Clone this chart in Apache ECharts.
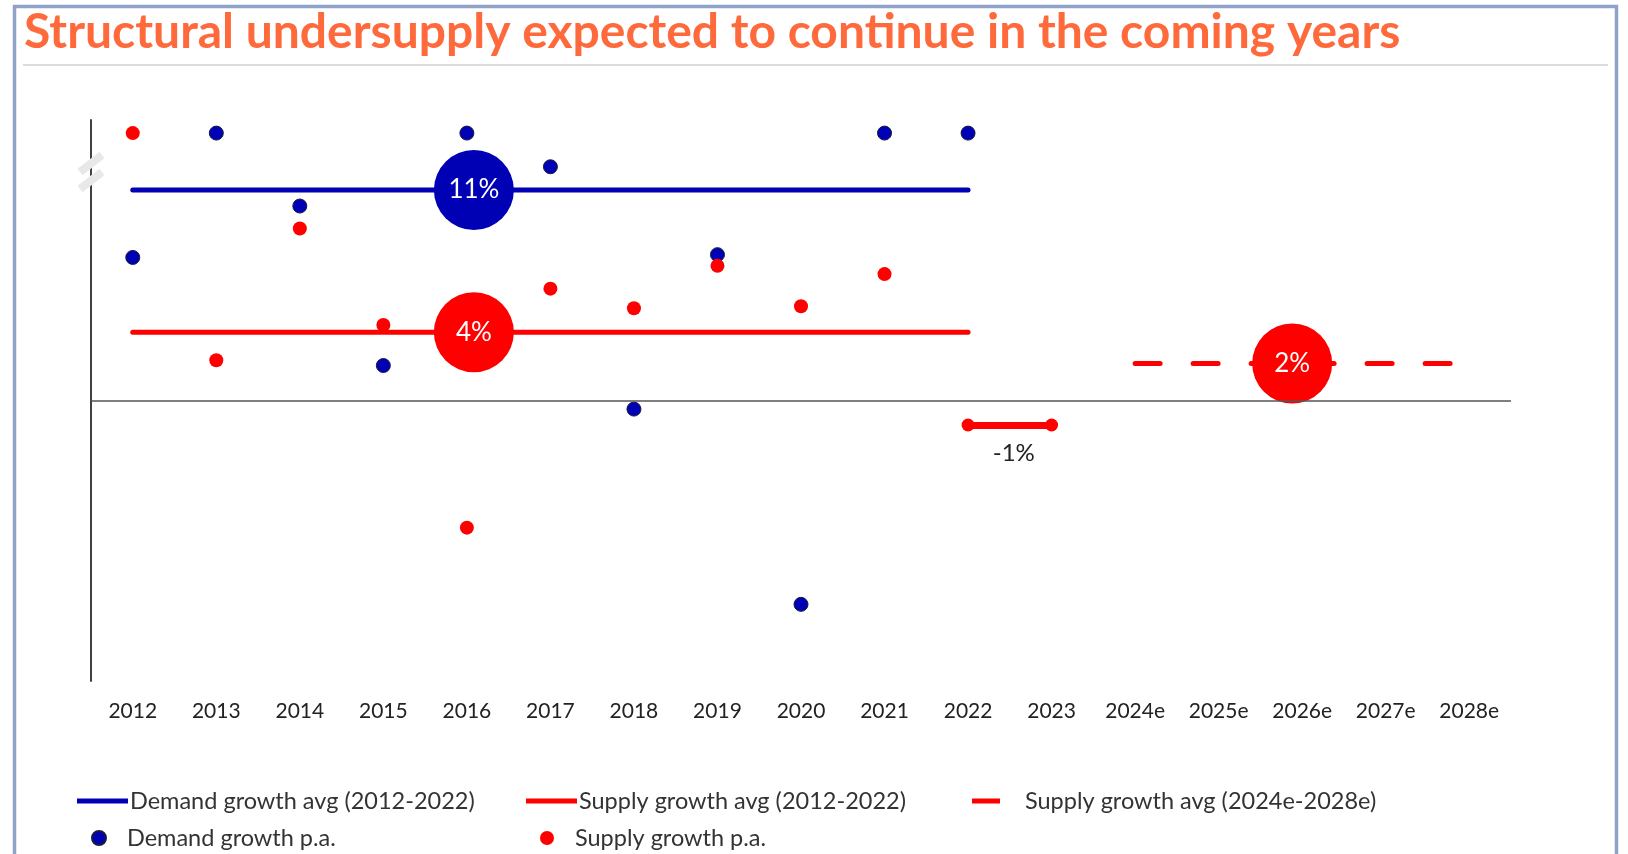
<!DOCTYPE html>
<html>
<head>
<meta charset="utf-8">
<title>Structural undersupply</title>
<script src="https://cdn.jsdelivr.net/npm/echarts@6/dist/echarts.min.js"></script>
<style>
  html, body { margin: 0; padding: 0; background: #fff; }
  #chart { width: 1628px; height: 854px; }
</style>
</head>
<body>
<div id="chart"></div>
<script>
// categories on the x axis
const years = ['2012', '2013', '2014', '2015', '2016', '2017', '2018', '2019', '2020',
  '2021', '2022', '2023', '2024e', '2025e', '2026e', '2027e', '2028e']

// yearly growth, % (values above the break are capped at the top row)
const demandPa = [7.65, 14.3, 10.4, 1.87, 14.3, 12.5, -0.46, 7.8, -10.9, 14.3, 14.3]
const supplyPa = [14.3, 2.15, 9.2, 4.04, -6.8, 5.98, 4.93, 7.2, 5.04, 6.76, null]

// averages
const demandAvg = 11.26
const supplyAvg = 3.65
const supply2023 = -1.31
const supplyFcst = 1.98

// bubble labels
const demandAvgLabel = '11%'
const supplyAvgLabel = '4%'
const supply2023Label = '-1%'
const supplyFcstLabel = '2%'

const BLUE = '#0000b4'
const RED = '#ff0000'
const FONT = 'Lato'

const chart = echarts.init(document.getElementById('chart'))

function legendItem(name, left, top, icon, w, h, padLeft) {
  return {
    data: [name],
    left: left,
    top: top,
    icon: icon,
    itemWidth: w,
    itemHeight: h,
    selectedMode: false,
    textStyle: {
      fontFamily: FONT,
      fontSize: 23.5,
      color: '#333',
      padding: [0, 0, 0, padLeft || 0]
    }
  }
}

chart.setOption({
  animation: false,
  title: {
    text: 'Structural undersupply expected to continue in the coming years',
    left: 19,
    top: 4,
    textStyle: {
      fontFamily: FONT,
      fontWeight: 'bold',
      fontSize: 48,
      color: '#ff6a3d'
    }
  },
  legend: [
    legendItem('Demand growth avg (2012-2022)', 72, 784, 'rect', 51, 5, -3),
    legendItem('Supply growth avg (2012-2022)', 521, 784, 'rect', 51, 5, -3),
    legendItem('Supply growth avg (2024e-2028e)', 967, 784, 'rect', 28, 5, 20),
    legendItem('Demand growth p.a.', 86, 821, 'circle', 14, 14, 16),
    legendItem('Supply growth p.a.', 535, 821, 'circle', 14, 14, 16)
  ],
  grid: { left: 91, right: 117, top: 120, height: 561 },
  xAxis: {
    type: 'category',
    data: years,
    boundaryGap: true,
    axisLine: { show: false, onZero: false },
    axisTick: { show: false },
    axisLabel: { fontFamily: FONT, fontSize: 21, color: '#222', margin: 20 }
  },
  yAxis: {
    type: 'value',
    min: -15,
    max: 15,
    axisLine: { show: true, lineStyle: { color: '#404040', width: 2 } },
    axisTick: { show: false },
    axisLabel: { show: false },
    splitLine: { show: false }
  },
  graphic: [
    { type: 'rect', shape: { x: 14.5, y: 6.5, width: 1602, height: 900 },
      style: { fill: null, stroke: '#8ea3c7', lineWidth: 3.5 }, z: 100 },
    { type: 'line', shape: { x1: 23, y1: 65, x2: 1608, y2: 65 },
      style: { stroke: '#dcdcdc', lineWidth: 2 } },
    // axis break mark
    { type: 'line', shape: { x1: 80, y1: 172, x2: 102, y2: 155 },
      style: { stroke: '#e8e8e8', lineWidth: 8 }, z: 100 },
    { type: 'line', shape: { x1: 80, y1: 189, x2: 102, y2: 172 },
      style: { stroke: '#e8e8e8', lineWidth: 8 }, z: 100 }
  ],
  series: [
    {
      name: 'Demand growth avg (2012-2022)',
      type: 'line',
      data: [['2012', demandAvg], ['2022', demandAvg]],
      showSymbol: false,
      color: BLUE,
      lineStyle: { width: 5, cap: 'round', color: BLUE },
      z: 2
    },
    {
      name: 'Supply growth avg (2012-2022)',
      type: 'line',
      data: [['2012', supplyAvg], ['2022', supplyAvg]],
      showSymbol: false,
      color: RED,
      lineStyle: { width: 5, cap: 'round', color: RED },
      z: 2
    },
    {
      name: 'Supply growth avg (2024e-2028e)',
      type: 'line',
      data: [['2024e', supplyFcst], ['2028e', supplyFcst]],
      showSymbol: false,
      color: RED,
      lineStyle: { width: 5, cap: 'round', color: RED, type: [25, 33] },
      z: 2
    },
    {
      name: 'Supply growth 2023',
      type: 'line',
      data: [],
      color: RED,
      markLine: {
        silent: true,
        symbol: ['circle', 'circle'],
        symbolSize: 13,
        lineStyle: { color: RED, width: 7, type: 'solid' },
        label: {
          show: true,
          position: 'insideMiddleBottom',
          distance: 16,
          offset: [4, 0],
          formatter: supply2023Label,
          fontFamily: FONT,
          fontSize: 24,
          color: '#222'
        },
        data: [[{ coord: ['2022', supply2023] }, { coord: ['2023', supply2023] }]]
      }
    },
    {
      name: 'Demand growth p.a.',
      type: 'scatter',
      data: demandPa,
      symbolSize: 14,
      itemStyle: { color: BLUE, opacity: 1, borderColor: '#1a1a40', borderWidth: 1 },
      z: 3,
      markLine: {
        silent: true,
        symbol: 'none',
        label: { show: false },
        lineStyle: { color: '#555', width: 1.5, type: 'solid' },
        data: [{ yAxis: 0 }]
      }
    },
    {
      name: 'Supply growth p.a.',
      type: 'scatter',
      data: supplyPa,
      symbolSize: 14,
      itemStyle: { color: RED, opacity: 1 },
      z: 3
    },
    {
      name: 'avg bubbles',
      type: 'scatter',
      symbolSize: 80,
      z: 4,
      label: {
        show: true,
        position: 'inside',
        fontFamily: FONT,
        fontSize: 26,
        color: '#fff',
        formatter: p => p.data.label
      },
      data: [
        { value: ['2016', demandAvg], label: demandAvgLabel, symbolOffset: [7, 0],
          itemStyle: { color: BLUE, opacity: 1 } },
        { value: ['2016', supplyAvg], label: supplyAvgLabel, symbolOffset: [7, 0],
          itemStyle: { color: RED, opacity: 1 } },
        { value: ['2026e', supplyFcst], label: supplyFcstLabel, symbolOffset: [-10, 0],
          itemStyle: { color: RED, opacity: 1 } }
      ]
    }
  ]
})
</script>
</body>
</html>
